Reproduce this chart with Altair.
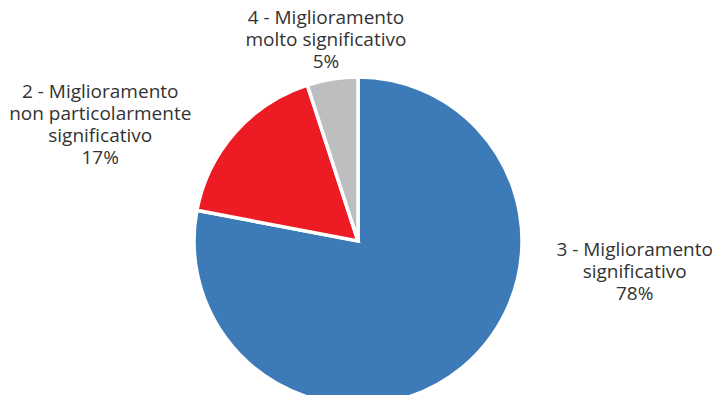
import altair as alt
import pandas as pd

categories = ["3 - Miglioramento significativo",
              "2 - Miglioramento non particolarmente significativo",
              "4 - Miglioramento molto significativo"]
labels = ["3 - Miglioramento\nsignificativo\n78%",
          "2 - Miglioramento\nnon particolarmente\nsignificativo\n17%",
          "4 - Miglioramento\nmolto significativo\n5%"]
values = [78, 17, 5]
colors = ["#3d7ab8", "#ed1c24", "#bcbec0"]

df = pd.DataFrame({"cat": categories, "label": labels, "value": values,
                   "idx": list(range(len(values)))})

CX, CY = 350, 233
R = 164

base = alt.Chart(df)

pie = base.mark_arc(stroke="white", strokeWidth=3.5).encode(
    theta=alt.Theta("value:Q", stack=True),
    order=alt.Order("idx:Q"),
    color=alt.Color("cat:N", scale=alt.Scale(domain=categories, range=colors), legend=None),
    x=alt.value(CX), y=alt.value(CY), radius=alt.value(R),
)

lab_base = base.transform_joinaggregate(total="sum(value)").transform_window(
    cum="sum(value)", sort=[alt.SortField("idx")], frame=[None, 0]
).transform_calculate(
    mid="2*PI*(datum.cum - datum.value/2)/datum.total"
)

offsets = {0: (146, -149), 1: (-104, -13), 2: (0, -21)}
layers = [pie]
for i, (dx, dy) in offsets.items():
    layers.append(
        lab_base.transform_filter(f"datum.idx == {i}").mark_text(
            align="center", baseline="middle", lineBreak="\n", fontSize=19,
            font="Open Sans", color="#333333", lineHeight=22, dx=dx, dy=dy,
        ).encode(
            theta=alt.Theta("mid:Q", scale=None),
            text="label:N",
            x=alt.value(CX), y=alt.value(CY), radius=alt.value(205),
        )
    )

chart = alt.layer(*layers).properties(
    width=704, height=387, padding=0, autosize="none", background="white"
).configure_view(stroke=None)

chart.save("out.html", embed_options={"renderer": "svg", "actions": False})
